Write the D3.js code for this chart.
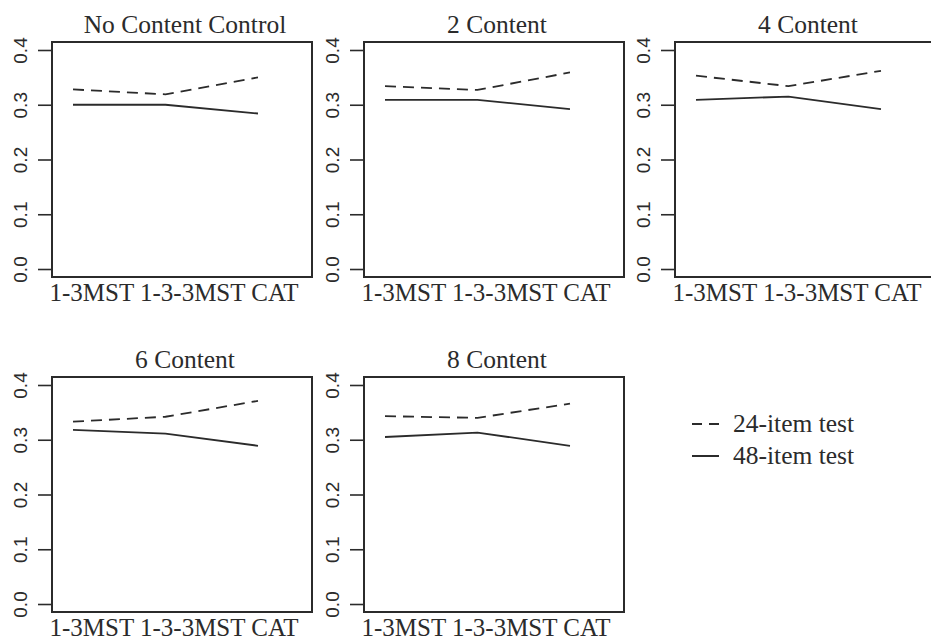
<!DOCTYPE html>
<html>
<head>
<meta charset="utf-8">
<script src="https://cdn.jsdelivr.net/npm/d3@7"></script>
<style>
  body { margin: 0; background: #fff; }
  .title, .xlab, .legText { font-family: "Liberation Serif", "Times New Roman", serif; fill: #2b2b2b; }
  .yAxis text { font-family: "Liberation Sans", Arial, sans-serif; fill: #2b2b2b; }
</style>
</head>
<body>
<div id="chart"></div>
<script>
// data
var categories = ["1-3MST", "1-3-3MST", "CAT"];
var panelTitles = ["No Content Control", "2 Content", "4 Content", "6 Content", "8 Content"];
var item24 = [
  [0.328, 0.319, 0.350],
  [0.334, 0.327, 0.359],
  [0.353, 0.334, 0.362],
  [0.333, 0.342, 0.371],
  [0.343, 0.340, 0.366]
];
var item48 = [
  [0.300, 0.300, 0.284],
  [0.309, 0.309, 0.292],
  [0.309, 0.315, 0.292],
  [0.318, 0.311, 0.289],
  [0.305, 0.313, 0.289]
];
var yTicks = [0, 0.1, 0.2, 0.3, 0.4];
var legendLabels = ["24-item test", "48-item test"];

var width = 931;
var height = 641;
var boxW = 260;
var boxH = 235;
var colLeft = [52, 364, 675];
var rowTop = [42, 377];
var ink = "#2b2b2b";

var svg = d3.select("#chart")
    .append("svg")
    .attr("width", width)
    .attr("height", height);

// scales (same for every panel)
var xScale = d3.scaleLinear()
    .domain([0.773, 3.584])
    .range([0, boxW]);
var yScale = d3.scaleLinear()
    .domain([-0.0146, 0.4146])
    .range([boxH, 0]);

var yAxis = d3.axisLeft(yScale)
    .tickValues(yTicks)
    .tickSize(14)
    .tickPadding(0)
    .tickFormat(d3.format(".1f"));

var line = d3.line()
    .x(function(d, i) { return xScale(i + 1); })
    .y(function(d) { return yScale(d); });

panelTitles.forEach(function(title, p) {
  var col = p % 3;
  var row = Math.floor(p / 3);
  var g = svg.append("g")
      .attr("transform", `translate(${colLeft[col]}, ${rowTop[row]})`);

  // y axis
  var ax = g.append("g").attr("class", "yAxis").call(yAxis);
  ax.select(".domain").remove();
  ax.selectAll(".tick line").attr("stroke", ink).attr("stroke-width", 1.6);
  ax.selectAll(".tick text")
      .attr("x", null).attr("dy", null)
      .attr("transform", "translate(-32,0) rotate(-90)")
      .attr("text-anchor", "middle")
      .attr("dominant-baseline", "central")
      .style("font-size", "19px");

  // lines
  g.append("path")
      .datum(item24[p])
      .attr("d", line)
      .attr("fill", "none")
      .attr("stroke", ink)
      .attr("stroke-width", 1.8)
      .attr("stroke-dasharray", "11,7");
  g.append("path")
      .datum(item48[p])
      .attr("d", line)
      .attr("fill", "none")
      .attr("stroke", ink)
      .attr("stroke-width", 1.8);

  // box
  g.append("rect")
      .attr("width", boxW)
      .attr("height", boxH)
      .attr("fill", "none")
      .attr("stroke", ink)
      .attr("stroke-width", 2);

  // title
  g.append("text")
      .attr("class", "title")
      .attr("x", boxW / 2 + 3)
      .attr("y", -9)
      .attr("text-anchor", "middle")
      .style("font-size", "25.5px")
      .text(title);

  // x labels
  g.append("text")
      .attr("class", "xlab")
      .attr("x", boxW / 2 - 8)
      .attr("y", boxH + 24)
      .attr("text-anchor", "middle")
      .style("font-size", "25px")
      .text(categories.join(" "));
});

// legend
var legend = svg.append("g").attr("transform", "translate(692, 424)");
legendLabels.forEach(function(lab, i) {
  var row = legend.append("g").attr("transform", `translate(0, ${i * 32})`);
  row.append("line")
      .attr("x1", 0).attr("x2", 27)
      .attr("stroke", ink)
      .attr("stroke-width", 2)
      .attr("stroke-dasharray", i === 0 ? "10,7" : null);
  row.append("text")
      .attr("class", "legText")
      .attr("x", 41)
      .attr("y", 8)
      .style("font-size", "25.5px")
      .text(lab);
});
</script>
</body>
</html>
